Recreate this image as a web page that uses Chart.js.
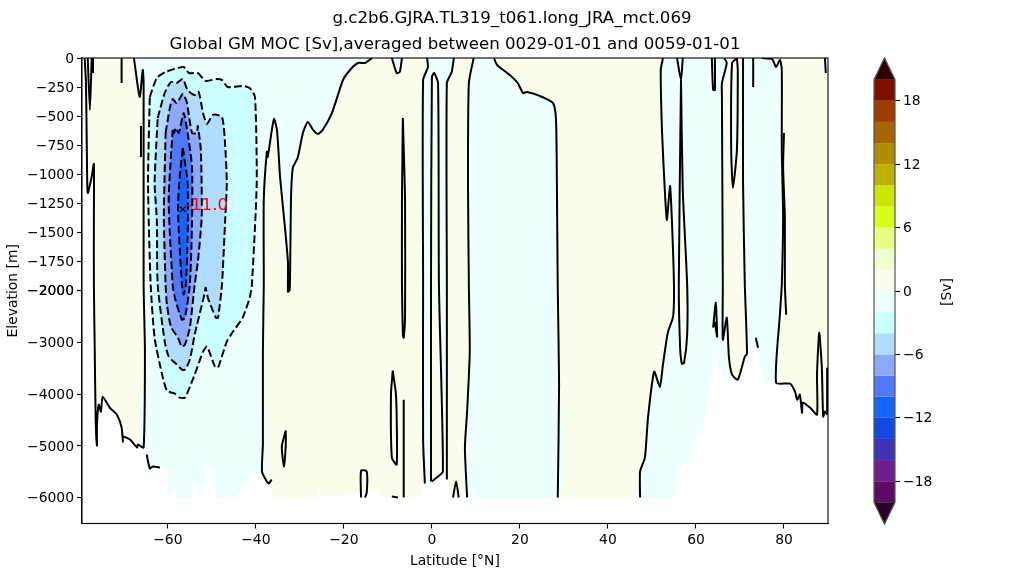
<!DOCTYPE html>
<html>
<head>
<meta charset="utf-8">
<script src="https://cdn.jsdelivr.net/npm/chart.js@4/dist/chart.umd.js"></script>
<style>
  body { margin: 0; background: #fff; }
  #wrap { position: relative; width: 1024px; height: 576px; overflow: hidden; }
  canvas { position: absolute; left: 0; top: 0; }
  #suptitle { position: absolute; left: 0; top: 8px; width: 1024px; text-align: center; font: 16.67px "DejaVu Sans"; color: #000; z-index: 2; }
</style>
</head>
<body>
<div id="wrap">
  <div id="suptitle">g.c2b6.GJRA.TL319_t061.long_JRA_mct.069</div>
  <canvas id="mocChart" width="1024" height="576"></canvas>
  <canvas id="barChart" width="1024" height="576"></canvas>
</div>
<script>
const latTicks = [-60, -40, -20, 0, 20, 40, 60, 80];
// -2000 belongs to both depth panels, so it is labelled twice
const elevationTicks = [0, -250, -500, -750, -1000, -1250, -1500, -1750, -2000, -2000, -3000, -4000, -5000, -6000];
const colorbarTicks = [18, 12, 6, 0, -6, -12, -18];
const colorbarLevels = [-20, -18, -16, -14, -12, -10, -8, -6, -4, -2, 0, 2, 4, 6, 8, 10, 12, 14, 16, 18, 20];
const colorbarColors = ['#5f0a64', '#6e1e8c', '#4032b4', '#1448e0', '#1464ff', '#5078ff', '#8ca8ff', '#b0dcff', '#ccffff', '#eeffff',
    '#f9ffec', '#f0ffd0', '#e6ff80', '#d6ff1e', '#cce600', '#bcb000', '#b08c00', '#a86400', '#a03c00', '#7f1000'];

// ocean domain down to 6000 m, everything below the sea floor is white
const oceanBox = [[-79.5, 0], [90, 0], [90, -6000], [-79.5, -6000]];
const seaFloor = [[-79.5, 0], [-78.9, 0], [-78.6, -215], [-78.4, -790], [-78.2, -1159], [-77.3, -1021], [-76.8, -910], [-76.8, -1948],
    [-76.6, -3178], [-76.4, -4452], [-76.1, -4993], [-75.7, -4201], [-75.2, -4337], [-74.8, -4047], [-73.2, -4259], [-71.6, -4394],
    [-70.5, -4645], [-70.2, -4916], [-68.6, -4877], [-67, -5031], [-65.5, -5031], [-64.8, -5167], [-64.1, -5437], [-61.8, -5418],
    [-60.2, -5495], [-60, -6000], [-59.5, -6000], [-58.4, -5804], [-58, -6000], [-54.8, -6000], [-54.3, -5708], [-52.7, -5881],
    [-52, -6000], [-51.1, -5398], [-50, -5398], [-49.3, -6000], [-44.8, -6000], [-43, -5785], [-41, -5553], [-39.1, -5514],
    [-38, -5688], [-36.8, -5746], [-36.1, -6000], [-25.9, -6000], [-25.5, -5746], [-25, -6000], [-12.3, -5843], [-11.8, -6000],
    [-2.7, -6000], [-1.6, -5727], [-0.2, -5880], [1.1, -5611], [2.5, -5495], [3.4, -5650], [4, -6000], [54.8, -6000],
    [55.5, -5688], [56, -5418], [57.3, -5360], [58.6, -5302], [59.3, -4877], [61.4, -4723], [62.5, -4143], [63.6, -3622],
    [63.9, -2714], [64.3, -3003], [65, -3525], [65.9, -3545], [66.6, -3873], [68.2, -3622], [69.5, -3718], [71.3, -3217],
    [73.4, -3101], [75, -3564], [76.1, -3854], [78.2, -3777], [81.4, -3796], [82.5, -3950], [83, -4105], [83.6, -4008],
    [84.1, -4356], [84.3, -4163], [85.9, -4259], [87.5, -4394], [88.9, -4433], [90, -4394], [90, -6500], [-79.5, -6500]];

// weak negative cells (0 to -2 Sv)
const weakCells = [
    [[-67.7, 0], [-66.4, -335], [-65.7, -103], [-65.5, -215], [-65.5, -1948], [-65.2, -3178], [-65.5, -6000], [-38.4, -6000], [-38.4, -3178],
     [-38.2, -1948], [-38.2, -1219], [-37.5, -807], [-37.3, -850], [-35.9, -524], [-35.2, -618], [-34.5, -1021], [-33.4, -1451], [-32.7, -1759],
     [-32.7, -2019], [-32.3, -1991], [-32, -1193], [-31.6, -944], [-30.5, -858], [-29.3, -644], [-28.2, -549], [-27, -618], [-25.9, -652],
     [-24.8, -618], [-22.7, -472], [-20.2, -189], [-18.6, -103], [-16.8, -43], [-15.2, -43], [-13.6, 0]],
    [[-9.1, 0], [-8, -129], [-7.3, -120], [-6.8, 0]],
    [[-1.1, 0], [-0.9, -77], [-2, -189], [-2, -1948], [-2, -4877], [-1.6, -6000], [-0.2, -6000], [-0.2, -1948], [0, -163], [0.5, -129], [1.4, -215],
     [1.6, -1948], [2.5, -5495], [3.4, -5650], [3.4, -1948], [3.4, -215], [4.5, -120], [5, 0]],
    [[9.5, 0], [8.4, -215], [8.2, -1073], [8.4, -1948], [8.6, -3178], [8, -4336], [7.5, -5031], [8, -6000], [28.6, -6000], [28.9, -3815], [28.6, -1991],
     [28.4, -1073], [28.2, -532], [27.5, -386], [24.5, -326], [21.6, -292], [20.7, -300], [19.5, -215], [17.7, -146], [14.8, -60], [14.1, 0]],
    [[52.5, 0], [52, -103], [52.3, -644], [53, -1193], [53.4, -1391], [54.1, -1099], [54.5, -1365], [55, -1948], [54.8, -2502], [53.6, -2811],
     [52.5, -3429], [51.8, -3854], [50.5, -3564], [49.1, -4452], [48.4, -5225], [47.3, -5495], [47.3, -6000], [66.1, -6000], [66.1, -1948],
     [65.9, -335], [65.9, -215], [67, -43], [66.4, 0]],
    [[70.7, 0], [70.7, -1073], [71.1, -1948], [71.6, -3217], [73.6, -6000], [78.2, -6000], [79.1, -2425], [79.5, -1948], [79.8, -1365], [79.5, -790],
     [79.5, -103], [79.1, -17], [78.2, -77], [77.3, -9], [75, 0]],
    [[69.3, 0], [68.2, -43], [68, -790], [68.4, -1116], [69.3, -790], [69.5, -103]]
];
const hairpinPositive = [[56.6, -189], [56.1, -1948], [56.4, -3101], [56.8, -3410], [57.3, -3391], [58, -2850], [58, -1948], [57, -1133]];

const zeroContours = [
    [[-78.9, 0], [-78.6, -215], [-78.4, -790], [-78.2, -1159], [-77.3, -1021], [-76.8, -910], [-76.8, -1365], [-76.8, -1948], [-76.6, -3178], [-76.4, -4452],
     [-76.1, -4993], [-76.1, -4585], [-75.7, -4201], [-75.2, -4337], [-74.8, -4047], [-73.2, -4259], [-71.6, -4394], [-70.5, -4645], [-70.2, -4916], [-70.2, -4819],
     [-68.6, -4877], [-67, -5031], [-66.8, -4973], [-65.5, -5031], [-65.2, -3178], [-65.5, -1948], [-65.5, -215], [-65.7, -103], [-66.4, -335], [-67.7, 0]],
    [[-78.2, 0], [-77.7, -446], [-77.3, 0]],
    [[-77, 0], [-77, -129]],
    [[-70.5, 0], [-70.5, -215]],
    [[-66.1, -584], [-66.1, -850]],
    [[-64.8, -5167], [-64.1, -5437], [-63.4, -5398], [-61.8, -5418]],
    [[-36.4, -5650], [-37, -5727], [-37.5, -5688], [-38.6, -5495], [-38.4, -4973], [-38.4, -3178], [-38.2, -1948], [-38.2, -1219], [-37.5, -807], [-37.3, -850],
     [-35.9, -524], [-35.2, -618], [-34.5, -1021], [-33.4, -1451], [-32.7, -1759], [-32.7, -2019], [-32.3, -1991], [-32, -1193], [-31.6, -944], [-30.5, -858],
     [-29.3, -644], [-28.2, -549], [-27, -618], [-25.9, -652], [-24.8, -618], [-22.7, -472], [-20.2, -189], [-18.6, -103], [-16.8, -43], [-15.2, -43], [-13.6, 0]],
    [[-9.1, 0], [-8, -129], [-7.3, -120], [-6.8, 0]],
    [[-6.6, -515], [-6.8, -1219], [-6.8, -1948], [-6.6, -2850], [-6.4, -2908], [-6.1, -2521], [-6.1, -1219], [-6.6, -515]],
    [[-8.9, -3545], [-9.3, -4008], [-9.1, -5225], [-8, -5360], [-8, -4452], [-8.2, -3970], [-8.9, -3545]],
    [[-6.4, -4105], [-6.4, -5998]],
    [[-9.1, -5979], [-7.7, -5998]],
    [[-33.2, -4703], [-34.1, -5012], [-33.6, -5398], [-33.2, -4973], [-33.2, -4703]],
    [[-16.1, -5998], [-16.1, -5476], [-14.8, -5495], [-14.8, -5900], [-15.2, -5998]],
    [[-1.1, 0], [-0.9, -77], [-2, -189], [-2, -1948], [-2, -4877], [-1.6, -5727]],
    [[-0.2, -5688], [-0.2, -1948], [0, -163], [0.5, -129], [1.4, -215], [1.6, -1948], [2.5, -5495], [1.1, -5611], [0, -5688]],
    [[3.4, -5650], [3.4, -1948], [3.4, -215], [4.5, -120], [5, 0]],
    [[4.8, -5998], [5.5, -5688], [6.1, -5998]],
    [[9.5, 0], [8.4, -215], [8.2, -1073], [8.4, -1948], [8.6, -3178], [8, -4336], [7.5, -5031], [8, -5998]],
    [[14.1, 0], [14.8, -60], [17.7, -146], [19.5, -215], [20.7, -300], [21.6, -292], [24.5, -326], [27.5, -386], [28.2, -532], [28.4, -1073], [28.6, -1991], [28.9, -3815], [28.6, -5998]],
    [[52.5, 0], [52, -103], [52.3, -644], [53, -1193], [53.4, -1391], [54.1, -1099], [54.5, -1365], [55, -1948], [54.8, -2502], [53.6, -2811], [52.5, -3429], [51.8, -3854],
     [50.5, -3564], [49.1, -4452], [48.4, -5225], [47.3, -5495], [47.3, -5998]],
    [[55.7, 0], [56.6, -189], [57, 0]],
    [[56.6, -189], [56.1, -1948], [56.4, -3101], [56.8, -3410], [57.3, -3391], [58, -2850], [58, -1948], [57, -1133], [56.6, -189]],
    [[63.6, 0], [63.9, -275], [64.3, -275], [64.3, 0]],
    [[66.4, 0], [67, -43], [65.9, -215], [65.9, -335], [66.1, -1948], [66.1, -2946], [67, -2521], [67.5, -3294], [68.2, -3622], [69.5, -3718], [71.1, -3274], [71.6, -3217],
     [71.1, -1948], [70.7, -1073], [70.7, 0]],
    [[69.3, 0], [68.2, -43], [68, -790], [68.4, -1116], [69.3, -790], [69.5, -103], [69.3, 0]],
    [[73, 0], [73, -249]],
    [[75, 0], [77.3, -9], [78.2, -77], [79.1, -17], [79.5, -103], [79.5, -790], [79.8, -1365], [79.5, -1948], [79.1, -2425], [78.2, -3777], [81.4, -3796], [82.5, -3950],
     [83, -4105], [83.6, -4008], [84.1, -4356], [84.3, -4163], [85.9, -4259], [87.5, -4394], [87.5, -3622], [88, -2811], [88.6, -3487], [88.9, -4433], [89.3, -4336], [89.8, -4394]],
    [[89.8, -3487], [89.8, -4394]],
    [[80, -644], [79.8, -936], [80.2, -1365], [80.2, -1948], [80.5, -2464]],
    [[89.3, 0], [89.5, -129]],
    [[63.9, -2714], [64.5, -2232], [64.8, -2888], [64.3, -2599]],
    [[73.6, -2908], [74.1, -3101]]
];

// closed negative contours from -2 to -10 Sv with the colour inside each one
const negativeLevels = [-2, -4, -6, -8, -10];
const negativeColors = ['#ccffff', '#b0dcff', '#8ca8ff', '#5078ff', '#1464ff'];
const negativeContours = [
    [[-64.1, -335], [-62.5, -172], [-60.5, -120], [-57.7, -86], [-56.4, -77], [-55.2, -129], [-53.2, -129], [-51.4, -197], [-48.9, -180], [-47.7, -189], [-46.4, -249],
     [-43, -240], [-41.4, -257], [-40.2, -335], [-39.8, -1073], [-40.9, -1948], [-41.4, -2135], [-43, -2521], [-45.2, -2792], [-46.6, -2985], [-48.6, -3487], [-49.3, -3467],
     [-51.1, -3081], [-52, -3178], [-53.9, -3622], [-56.1, -4066], [-57.3, -4066], [-58.4, -3989], [-60.2, -3931], [-61.4, -3583], [-63, -2908], [-63.9, -1948], [-64.5, -1073], [-64.1, -335]],
    [[-62.3, -515], [-60.7, -300], [-59.3, -206], [-58, -215], [-56.6, -180], [-55.5, -275], [-53.9, -318], [-53, -292], [-52, -472], [-51.1, -567], [-49.8, -489], [-47.7, -506],
     [-47, -730], [-46.6, -1073], [-47, -1416], [-47.7, -1948], [-48.6, -2521], [-49.1, -2521], [-50.9, -2135], [-51.4, -1974], [-51.6, -2039], [-53.9, -2850], [-55, -3333],
     [-56.1, -3525], [-56.8, -3525], [-58.4, -3390], [-59.8, -3274], [-60.7, -2985], [-62.3, -1948], [-62.5, -1390], [-63, -1073], [-62.3, -515]],
    [[-60.5, -644], [-59.5, -421], [-58.9, -352], [-58, -386], [-56.6, -309], [-55.7, -378], [-54.5, -644], [-53.4, -644], [-53.2, -584], [-52.5, -790], [-52.3, -1365], [-53.2, -1759],
     [-53.9, -1948], [-55, -2715], [-56.1, -3043], [-56.8, -3081], [-57.7, -2908], [-59.3, -2695], [-60.2, -2270], [-60.5, -1948], [-60.9, -1365], [-60.5, -644]],
    [[-58.9, -618], [-58.6, -644], [-58.2, -601], [-57.5, -644], [-56.4, -472], [-55.5, -644], [-54.5, -936], [-54.5, -1416], [-55, -1948], [-56.1, -2521], [-56.8, -2560], [-58.4, -2135],
     [-58.9, -1948], [-59.8, -1219], [-58.9, -618]],
    [[-56.6, -772], [-55.5, -1073], [-55.5, -1536], [-55.9, -1948], [-56.4, -2077], [-56.8, -1948], [-57.7, -1304], [-57.3, -1021], [-56.6, -772]]
];

const minPoint = [-56.6, -1300];
const minLabel = '-11.0';
const minLabelAt = [-56.1, -1265];

const fontFamily = '"DejaVu Sans"';
const tickSize = 13.9;
const curve = 0.2;
Chart.defaults.font.family = fontFamily;
Chart.defaults.color = '#000';
Chart.defaults.animation = false;

const toXY = pts => pts.map(([x, y]) => ({ x, y }));

function areaSet(pts, color, tension) {
    return { data: toXY(pts), showLine: true, fill: 'shape', backgroundColor: color, borderWidth: 0, pointRadius: 0, tension: tension || 0 };
}

function lineSet(pts, dash) {
    return { data: toXY(pts), showLine: true, fill: false, borderColor: '#000', borderWidth: 2, borderDash: dash, borderJoinStyle: 'round', pointRadius: 0, tension: curve };
}

// tick labels sit one pixel lower than chart.js centres them
class LowLabelScale extends Chart.LinearScale {
    _computeLabelItems(area) {
        const items = super._computeLabelItems(area);
        items.forEach(item => {
            const [x, y] = item.options.translation;
            item.options.translation = [x, y + 1];
        });
        return items;
    }
}
LowLabelScale.id = 'lowLabel';
LowLabelScale.defaults = Chart.LinearScale.defaults;

// upper 2000 m takes the top half of the axis, the rest the bottom half
class SplitDepthScale extends LowLabelScale {
    buildTicks() {
        return elevationTicks.map(value => ({ value }));
    }
    getPixelForValue(value) {
        const depth = -value;
        const frac = depth <= 2000 ? depth / 2000 * 0.5 : 0.5 + (depth - 2000) / 4500 * 0.5;
        return this.getPixelForDecimal(1 - frac);
    }
}
SplitDepthScale.id = 'splitDepth';
SplitDepthScale.defaults = Chart.LinearScale.defaults;
Chart.register(LowLabelScale, SplitDepthScale);

const minus = v => String(v).replace('-', '\u2212');

const layers = [areaSet(oceanBox, '#f9ffec')];
weakCells.forEach(c => layers.push(areaSet(c, '#eeffff', curve)));
layers.push(areaSet(hairpinPositive, '#f9ffec', curve));
negativeContours.forEach((c, i) => layers.push(areaSet(c, negativeColors[i], curve)));
layers.push(areaSet(seaFloor, '#ffffff'));
zeroContours.forEach(c => layers.push(lineSet(c, [])));
negativeContours.forEach(c => layers.push(lineSet(c, [7.7, 3.3])));
layers.push({ data: toXY([minPoint]), pointStyle: 'crossRot', pointRadius: 4, pointBorderColor: '#000', pointBorderWidth: 1.2, showLine: false });

const framePlugin = {
    id: 'frame',
    afterDatasetsDraw(chart) {
        const { ctx, chartArea: a, scales } = chart;
        ctx.save();
        ctx.strokeStyle = '#000';
        ctx.lineWidth = 1.1;
        ctx.strokeRect(a.left, a.top, a.right - a.left, a.bottom - a.top);
        ctx.fillStyle = '#ff0000';
        ctx.font = '16.67px ' + fontFamily;
        ctx.textBaseline = 'middle';
        ctx.fillText(minLabel, scales.x.getPixelForValue(minLabelAt[0]), scales.y.getPixelForValue(minLabelAt[1]));
        ctx.restore();
    }
};

new Chart(document.getElementById('mocChart').getContext('2d'), {
    type: 'scatter',
    // chart.js paints the first dataset last
    data: { datasets: layers.reverse() },
    options: {
        responsive: false,
        layout: { padding: { top: 35, right: 196, left: 0, bottom: 0 } },
        plugins: {
            legend: { display: false },
            tooltip: { enabled: false },
            filler: { drawTime: 'beforeDatasetDraw', propagate: false },
            title: {
                display: true,
                fullSize: false,
                text: 'Global GM MOC [Sv],averaged between 0029-01-01 and 0059-01-01',
                font: { size: 16.67, weight: 'normal' },
                padding: { top: 0, bottom: 3 }
            }
        },
        scales: {
            x: {
                type: 'linear',
                min: -79.5,
                max: 90,
                afterBuildTicks: s => { s.ticks = latTicks.map(value => ({ value })); },
                afterFit: s => { s.height = 52.5; },
                grid: { drawOnChartArea: false, tickLength: 5, color: '#000', tickWidth: 1.1 },
                border: { color: '#000', width: 1.1 },
                ticks: { maxRotation: 0, autoSkip: false, padding: 4, font: { size: tickSize }, callback: minus },
                title: { display: true, text: 'Latitude [\u00b0N]', font: { size: tickSize }, padding: { top: 0, bottom: 6 } }
            },
            y: {
                type: 'splitDepth',
                min: -6500,
                max: 0,
                afterFit: s => { s.width = 82; },
                grid: { drawOnChartArea: false, tickLength: 5, color: '#000', tickWidth: 1.1 },
                border: { color: '#000', width: 1.1 },
                ticks: { autoSkip: false, padding: 3, font: { size: tickSize }, callback: minus },
                title: { display: true, text: 'Elevation [m]', font: { size: tickSize }, padding: { top: 5, bottom: 0 } }
            }
        }
    },
    plugins: [framePlugin]
});

// colour bar with its two end triangles
const barSets = [];
colorbarColors.forEach((c, i) => {
    const lo = colorbarLevels[i];
    const hi = colorbarLevels[i + 1];
    barSets.push(areaSet([[0, lo], [1, lo], [1, hi], [0, hi]], c));
});
const barEnd = 22.05;
barSets.push(areaSet([[0, 20], [1, 20], [0.5, barEnd]], '#300000'));
barSets.push(areaSet([[0, -20], [1, -20], [0.5, -barEnd]], '#280028'));
barSets.push({
    data: toXY([[0, -20], [0.5, -barEnd], [1, -20], [1, 20], [0.5, barEnd], [0, 20], [0, -20]]),
    showLine: true, fill: false, borderColor: '#555', borderWidth: 1.2, pointRadius: 0, clip: false
});

const barTitlePlugin = {
    id: 'barTitle',
    afterDraw(chart) {
        const { ctx } = chart;
        ctx.save();
        ctx.translate(947, 292);
        ctx.rotate(-Math.PI / 2);
        ctx.font = tickSize + 'px ' + fontFamily;
        ctx.fillStyle = '#000';
        ctx.textAlign = 'center';
        ctx.textBaseline = 'middle';
        ctx.fillText('[Sv]', 0, 0);
        ctx.restore();
    }
};

new Chart(document.getElementById('barChart').getContext('2d'), {
    type: 'scatter',
    data: { datasets: barSets.reverse() },
    options: {
        responsive: false,
        layout: { padding: { left: 874, right: 0, top: 58, bottom: 52 } },
        plugins: {
            legend: { display: false },
            tooltip: { enabled: false },
            filler: { drawTime: 'beforeDatasetDraw', propagate: false }
        },
        scales: {
            x: { type: 'linear', min: 0, max: 1, display: false },
            y: {
                type: 'lowLabel',
                position: 'right',
                min: -barEnd,
                max: barEnd,
                afterBuildTicks: s => { s.ticks = colorbarTicks.map(value => ({ value })); },
                afterFit: s => { s.width = 129; },
                grid: { drawOnChartArea: false, tickLength: 5, color: '#000', tickWidth: 1.1 },
                border: { display: false },
                ticks: { autoSkip: false, padding: 3, font: { size: tickSize }, callback: minus }
            }
        }
    },
    plugins: [barTitlePlugin]
});
</script>
</body>
</html>
